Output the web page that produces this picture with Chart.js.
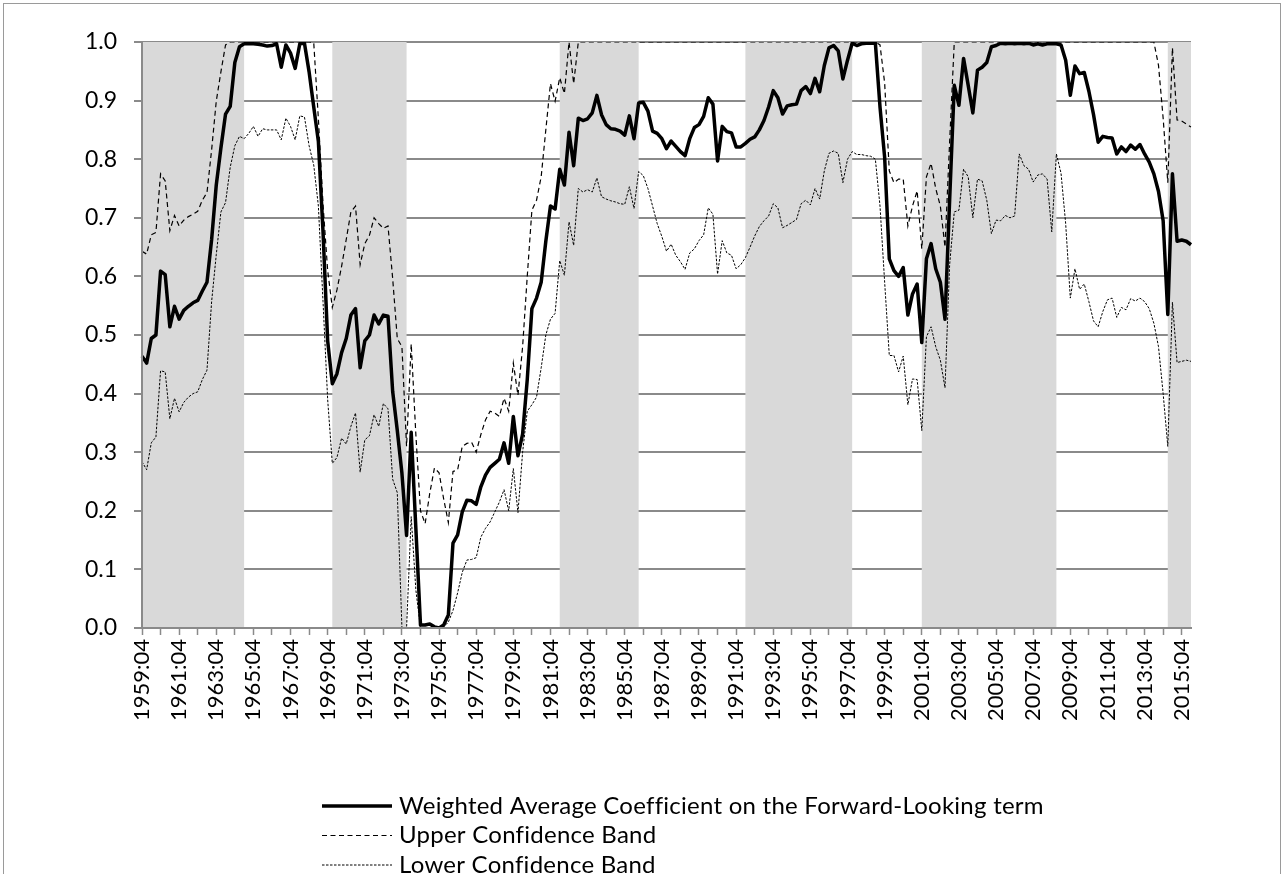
<!DOCTYPE html>
<html lang="en">

<head>
    <meta charset="UTF-8">
    <title>Weighted Average Coefficient</title>
    <script src="https://cdn.jsdelivr.net/npm/chart.js"></script>
    <style>
        html,
        body {
            margin: 0;
            width: 1283px;
            height: 874px;
            overflow: hidden;
            background: #fff;
        }

        .frame {
            position: absolute;
            left: 3px;
            top: 3px;
            width: 1276px;
            height: 900px;
            border: 1.5px solid #9a9a9a;
        }

        #coefChart {
            position: absolute;
            left: 0;
            top: 0;
        }
    </style>
</head>

<body>
    <div class="frame"></div>
    <canvas id="coefChart" width="1283" height="874"></canvas>

    <script>
        // quarters 1959:04 .. 2016:02
        const quarters = [];
        for (let y = 1959; y <= 2016; y++) {
            for (let q = 1; q <= 4; q++) {
                if ((y === 1959 && q < 4) || (y === 2016 && q > 2)) continue;
                quarters.push(y + ':0' + q);
            }
        }

        // shaded periods (from, up to)
        const shadeFrom = ['1959:04', '1970:01', '1982:02', '1992:02', '2001:04', '2015:01'];
        const shadeTo = ['1965:02', '1974:01', '1986:03', '1998:01', '2009:01', '2016:02'];

        const weightedCoef = [
            0.464, 0.452, 0.494, 0.500, 0.609, 0.603, 0.514, 0.549,
            0.527, 0.542, 0.549, 0.555, 0.559, 0.575, 0.590, 0.663,
            0.756, 0.819, 0.877, 0.890, 0.965, 0.992, 0.997, 0.997,
            0.997, 0.996, 0.995, 0.993, 0.994, 0.997, 0.957, 0.995,
            0.981, 0.955, 0.997, 0.998, 0.949, 0.889, 0.830, 0.676,
            0.490, 0.417, 0.434, 0.470, 0.494, 0.534, 0.545, 0.444,
            0.490, 0.500, 0.534, 0.519, 0.534, 0.532, 0.404, 0.337,
            0.264, 0.158, 0.334, 0.170, 0.005, 0.005, 0.007, 0.002,
            0.000, 0.005, 0.022, 0.145, 0.159, 0.198, 0.218, 0.217,
            0.211, 0.241, 0.261, 0.274, 0.281, 0.288, 0.316, 0.281,
            0.361, 0.294, 0.331, 0.424, 0.545, 0.563, 0.590, 0.660,
            0.720, 0.715, 0.783, 0.756, 0.846, 0.789, 0.870, 0.866,
            0.869, 0.879, 0.909, 0.876, 0.859, 0.852, 0.851, 0.848,
            0.841, 0.874, 0.835, 0.896, 0.897, 0.882, 0.848, 0.844,
            0.835, 0.818, 0.831, 0.822, 0.813, 0.806, 0.835, 0.854,
            0.859, 0.873, 0.905, 0.894, 0.797, 0.856, 0.847, 0.845,
            0.821, 0.821, 0.827, 0.834, 0.838, 0.850, 0.866, 0.889,
            0.917, 0.905, 0.877, 0.891, 0.893, 0.894, 0.917, 0.924,
            0.912, 0.938, 0.915, 0.960, 0.990, 0.994, 0.985, 0.937,
            0.969, 0.998, 0.994, 0.997, 0.998, 0.998, 0.998, 0.889,
            0.803, 0.630, 0.610, 0.600, 0.615, 0.534, 0.570, 0.587,
            0.487, 0.630, 0.656, 0.613, 0.590, 0.527, 0.730, 0.926,
            0.892, 0.972, 0.926, 0.879, 0.952, 0.957, 0.965, 0.992,
            0.994, 0.998, 0.997, 0.998, 0.997, 0.998, 0.997, 0.998,
            0.995, 0.997, 0.995, 0.997, 0.997, 0.997, 0.995, 0.969,
            0.909, 0.959, 0.946, 0.948, 0.916, 0.876, 0.829, 0.839,
            0.837, 0.836, 0.809, 0.821, 0.813, 0.824, 0.817, 0.825,
            0.809, 0.795, 0.775, 0.745, 0.695, 0.535, 0.775, 0.660,
            0.662, 0.660, 0.654
        ];

        const upperBand = [
            0.643, 0.638, 0.671, 0.675, 0.775, 0.763, 0.678, 0.704,
            0.686, 0.696, 0.702, 0.706, 0.711, 0.730, 0.743, 0.816,
            0.899, 0.949, 0.995, 1.000, 1.000, 1.000, 1.000, 1.000,
            1.000, 1.000, 1.000, 1.000, 1.000, 1.000, 1.000, 1.000,
            1.000, 1.000, 1.000, 1.000, 1.000, 0.999, 0.869, 0.723,
            0.610, 0.547, 0.577, 0.617, 0.663, 0.710, 0.720, 0.620,
            0.656, 0.670, 0.700, 0.690, 0.682, 0.686, 0.597, 0.494,
            0.480, 0.310, 0.485, 0.330, 0.200, 0.178, 0.230, 0.273,
            0.265, 0.220, 0.180, 0.267, 0.270, 0.310, 0.315, 0.317,
            0.300, 0.330, 0.355, 0.370, 0.367, 0.361, 0.392, 0.370,
            0.452, 0.397, 0.480, 0.600, 0.713, 0.730, 0.770, 0.850,
            0.929, 0.899, 0.939, 0.912, 1.000, 0.929, 1.000, 1.000,
            1.000, 1.000, 1.000, 1.000, 1.000, 1.000, 1.000, 1.000,
            1.000, 1.000, 1.000, 1.000, 1.000, 1.000, 1.000, 1.000,
            1.000, 1.000, 1.000, 1.000, 1.000, 1.000, 1.000, 1.000,
            1.000, 1.000, 1.000, 1.000, 1.000, 1.000, 1.000, 1.000,
            1.000, 1.000, 1.000, 1.000, 1.000, 1.000, 1.000, 1.000,
            1.000, 1.000, 1.000, 1.000, 1.000, 1.000, 1.000, 1.000,
            1.000, 1.000, 1.000, 1.000, 1.000, 1.000, 1.000, 1.000,
            1.000, 1.000, 1.000, 1.000, 1.000, 1.000, 1.000, 0.995,
            0.930, 0.780, 0.760, 0.766, 0.766, 0.686, 0.720, 0.746,
            0.647, 0.770, 0.793, 0.750, 0.720, 0.650, 0.830, 1.000,
            1.000, 1.000, 1.000, 1.000, 1.000, 1.000, 1.000, 1.000,
            1.000, 1.000, 1.000, 1.000, 1.000, 1.000, 1.000, 1.000,
            1.000, 1.000, 1.000, 1.000, 1.000, 1.000, 1.000, 1.000,
            1.000, 1.000, 1.000, 1.000, 1.000, 1.000, 1.000, 1.000,
            1.000, 1.000, 1.000, 1.000, 1.000, 1.000, 1.000, 1.000,
            1.000, 1.000, 1.000, 0.960, 0.870, 0.760, 0.990, 0.867,
            0.865, 0.860, 0.855
        ];

        const lowerBand = [
            0.284, 0.270, 0.316, 0.326, 0.439, 0.437, 0.357, 0.392,
            0.369, 0.385, 0.394, 0.400, 0.403, 0.424, 0.440, 0.557,
            0.637, 0.710, 0.726, 0.786, 0.823, 0.839, 0.835, 0.844,
            0.856, 0.839, 0.852, 0.850, 0.850, 0.850, 0.833, 0.870,
            0.856, 0.833, 0.874, 0.872, 0.823, 0.790, 0.720, 0.557,
            0.390, 0.281, 0.291, 0.324, 0.314, 0.344, 0.367, 0.266,
            0.321, 0.328, 0.364, 0.344, 0.383, 0.374, 0.254, 0.231,
            0.000, 0.000, 0.190, 0.065, 0.000, 0.000, 0.000, 0.000,
            0.000, 0.002, 0.010, 0.030, 0.060, 0.095, 0.116, 0.117,
            0.120, 0.155, 0.170, 0.181, 0.198, 0.215, 0.236, 0.200,
            0.272, 0.197, 0.300, 0.370, 0.381, 0.394, 0.444, 0.500,
            0.527, 0.537, 0.627, 0.602, 0.693, 0.653, 0.750, 0.744,
            0.748, 0.744, 0.768, 0.736, 0.732, 0.729, 0.727, 0.724,
            0.723, 0.753, 0.716, 0.779, 0.772, 0.750, 0.720, 0.690,
            0.668, 0.643, 0.655, 0.636, 0.625, 0.612, 0.640, 0.647,
            0.661, 0.671, 0.717, 0.706, 0.604, 0.661, 0.640, 0.636,
            0.613, 0.620, 0.632, 0.650, 0.669, 0.685, 0.695, 0.703,
            0.724, 0.717, 0.683, 0.687, 0.692, 0.697, 0.724, 0.730,
            0.722, 0.750, 0.732, 0.780, 0.810, 0.814, 0.810, 0.760,
            0.800, 0.813, 0.808, 0.808, 0.806, 0.805, 0.800, 0.720,
            0.590, 0.465, 0.465, 0.437, 0.464, 0.381, 0.425, 0.424,
            0.337, 0.497, 0.514, 0.480, 0.457, 0.410, 0.620, 0.710,
            0.713, 0.783, 0.770, 0.700, 0.766, 0.763, 0.730, 0.673,
            0.696, 0.695, 0.704, 0.700, 0.703, 0.809, 0.789, 0.783,
            0.761, 0.773, 0.775, 0.766, 0.676, 0.809, 0.776, 0.690,
            0.563, 0.613, 0.578, 0.587, 0.557, 0.524, 0.514, 0.540,
            0.560, 0.563, 0.530, 0.547, 0.543, 0.562, 0.558, 0.563,
            0.557, 0.545, 0.520, 0.480, 0.400, 0.310, 0.556, 0.453,
            0.455, 0.457, 0.455
        ];

        // 1 inside a shaded period, 0 outside
        const shade = quarters.map((q, i) =>
            shadeFrom.some((f, k) => i >= quarters.indexOf(f) && i < quarters.indexOf(shadeTo[k])) ? 1 : 0);

        const gridColor = '#8a8a8a';
        const fontFamily = 'Lato, "Open Sans", sans-serif';

        // legend drawn as a single column under the axis
        const columnLegend = {
            id: 'columnLegend',
            afterDraw(chart, args, opts) {
                const ctx = chart.ctx;
                ctx.save();
                ctx.font = opts.font;
                if ('letterSpacing' in ctx) ctx.letterSpacing = opts.letterSpacing;
                ctx.textBaseline = 'middle';
                ctx.fillStyle = '#000';
                let y = opts.top;
                chart.data.datasets.forEach(ds => {
                    if (!ds.label) return;
                    ctx.beginPath();
                    ctx.lineWidth = ds.borderWidth;
                    ctx.strokeStyle = ds.borderColor;
                    ctx.setLineDash(ds.borderDash || []);
                    ctx.moveTo(opts.left, y);
                    ctx.lineTo(opts.left + opts.lineLength, y);
                    ctx.stroke();
                    ctx.setLineDash([]);
                    ctx.fillText(ds.label, opts.left + opts.lineLength + opts.gap, y);
                    y += opts.rowHeight;
                });
                ctx.restore();
            }
        };

        const ctx = document.getElementById('coefChart').getContext('2d');
        const coefChart = new Chart(ctx, {
            type: 'line',
            data: {
                labels: quarters,
                datasets: [
                    {
                        label: 'Weighted Average Coefficient on the Forward-Looking term',
                        data: weightedCoef,
                        borderColor: '#000',
                        borderWidth: 3.5,
                        borderJoinStyle: 'round',
                        pointRadius: 0,
                        tension: 0,
                        order: 0
                    },
                    {
                        label: 'Upper Confidence Band',
                        data: upperBand,
                        borderColor: '#000',
                        borderWidth: 1.2,
                        borderDash: [5, 3.5],
                        pointRadius: 0,
                        tension: 0,
                        order: 1
                    },
                    {
                        label: 'Lower Confidence Band',
                        data: lowerBand,
                        borderColor: '#000',
                        borderWidth: 1,
                        borderDash: [2.5, 1.5],
                        pointRadius: 0,
                        tension: 0,
                        order: 2
                    },
                    {
                        data: shade,
                        stepped: true,
                        fill: 'origin',
                        backgroundColor: '#d9d9d9',
                        borderColor: 'rgba(0,0,0,0)',
                        borderWidth: 0,
                        pointRadius: 0,
                        order: 3
                    }
                ]
            },
            options: {
                responsive: false,
                animation: false,
                devicePixelRatio: 1,
                layout: {
                    padding: { left: 0, right: 92, top: 42, bottom: 136 }
                },
                plugins: {
                    legend: { display: false },
                    tooltip: { enabled: false },
                    columnLegend: {
                        left: 322,
                        top: 806,
                        lineLength: 70,
                        gap: 7,
                        rowHeight: 29.5,
                        letterSpacing: '0.25px',
                        font: '24px ' + fontFamily
                    }
                },
                scales: {
                    x: {
                        type: 'category',
                        offset: false,
                        grid: {
                            display: true,
                            drawOnChartArea: false,
                            drawTicks: true,
                            tickLength: 7,
                            tickWidth: 1.5,
                            tickColor: c => c.index % 4 === 0 ? gridColor : 'rgba(0,0,0,0)'
                        },
                        border: { display: true, color: gridColor, width: 2, z: 1 },
                        ticks: {
                            autoSkip: false,
                            minRotation: 90,
                            maxRotation: 90,
                            padding: 4,
                            color: '#000',
                            font: { family: fontFamily, size: 22 },
                            callback: (v, i) => i % 8 === 0 ? quarters[i] : ''
                        },
                        afterFit: s => { s.height = 110; }
                    },
                    y: {
                        min: 0,
                        max: 1,
                        grid: {
                            color: gridColor,
                            lineWidth: 2,
                            tickLength: 8
                        },
                        border: { display: true, color: gridColor, width: 2, z: 1 },
                        ticks: {
                            stepSize: 0.1,
                            padding: 17,
                            color: '#000',
                            font: { family: fontFamily, size: 23 },
                            callback: v => v.toFixed(1)
                        },
                        afterFit: s => { s.width = 142; }
                    }
                }
            },
            plugins: [columnLegend]
        });
    </script>

</body>

</html>
